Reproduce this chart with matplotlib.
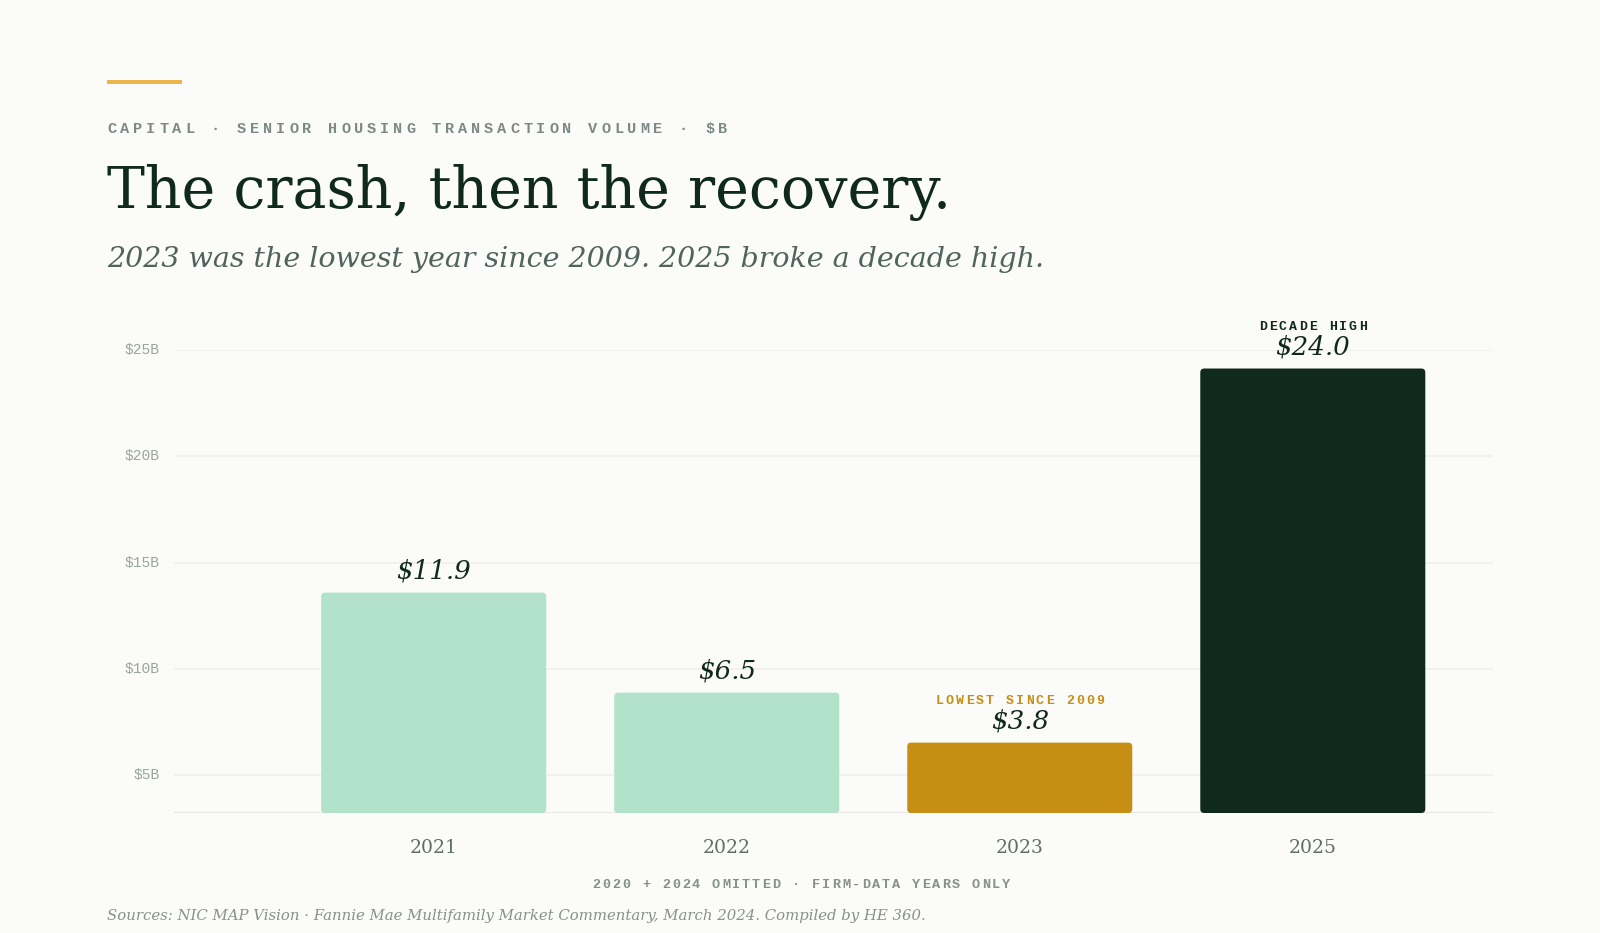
import matplotlib.pyplot as plt
from matplotlib.patches import FancyBboxPatch
from matplotlib.lines import Line2D
from matplotlib.transforms import offset_copy, blended_transform_factory

# data
years = ['2021', '2022', '2023', '2025']
volume = [11.9, 6.5, 3.8, 24.0]
bar_colors = ['#b2e2c9', '#b2e2c9', '#c68e12', '#10291f']
tick_vals = [5, 10, 15, 20, 25]
tick_labels = ['$5B', '$10B', '$15B', '$20B', '$25B']
callouts = {2: ('LOWEST SINCE 2009', '#c68e12'), 3: ('DECADE HIGH', '#10291f')}

W, H = 1600, 933
BG = '#fbfbfa'
DARK = '#10291f'
MONO = 'Liberation Mono'
SERIF = 'DejaVu Serif'

fig = plt.figure(figsize=(16, 9.33), dpi=100, facecolor=BG)
ax = fig.add_axes([173.5 / W, 1 - 813 / H, (1493 - 173.5) / W, 463 / H])
ax.set_facecolor(BG)
ax.set_xlim(-0.888, 3.615)
ax.set_ylim(0, 25)
for s in ax.spines.values():
    s.set_visible(False)
ax.set_xticks([])
ax.set_yticks([])


def spaced(trans, x, y, s, step, ha='left', dy=0, **kw):
    # monospace text with letter spacing, one glyph at a time
    n = len(s)
    start = 0 if ha == 'left' else -(n - 1) * step / 2
    for i, ch in enumerate(s):
        t = offset_copy(trans, fig=fig, x=start + i * step, y=dy, units='dots')
        fig.text(x, y, ch, transform=t, ha=ha, va='baseline', **kw)


# the grid runs on a slightly different scale than the bars
def grid_y(v):
    return 25 - (25 - v) * (881.6 - 350) / (813 - 350)


lab_tr = offset_copy(blended_transform_factory(ax.transAxes, ax.transData),
                     fig=fig, x=-13.5, y=0, units='dots')
for v, lab in zip(tick_vals, tick_labels):
    ax.axhline(grid_y(v), color='#efefed', lw=1.1, zorder=0)
    ax.text(0, grid_y(v), lab, transform=lab_tr, ha='right', va='center',
            family=MONO, fontsize=10.5, color='#9aa59f')
ax.axhline(0, color='#e3e4e2', lw=1.2, zorder=1)

bw = 225 / 293
rr = 4 / 293
asp = (25 / 463) / (1 / 293)
for i, (v, c) in enumerate(zip(volume, bar_colors)):
    ax.add_patch(FancyBboxPatch((i - bw / 2, 0), bw, v,
                                boxstyle=f'round,pad=0,rounding_size={rr}',
                                mutation_aspect=asp, fc=c, ec='none', zorder=2))
    t = offset_copy(ax.transData, fig=fig, x=0, y=14.5, units='dots')
    ax.text(i, v, f'${v:.1f}', transform=t, ha='center', va='baseline',
            family=SERIF, style='italic', fontsize=18.8, color=DARK)
    t = offset_copy(ax.transData, fig=fig, x=0, y=-40, units='dots')
    ax.text(i, 0, years[i], transform=t, ha='center', va='baseline',
            family=SERIF, fontsize=13.5, color='#5f6e68')
    if i in callouts:
        txt, col = callouts[i]
        spaced(ax.transData, i, v, txt, 10.0, ha='center', dy=38.5,
               family=MONO, weight='bold', fontsize=9.5, color=col)

# header
fig.add_artist(Line2D([107 / W, 182 / W], [1 - 82 / H] * 2, lw=4 * 0.72,
                      color='#ecb54a', solid_capstyle='butt'))
spaced(fig.transFigure, 107 / W, 1 - 133 / H,
       'CAPITAL · SENIOR HOUSING TRANSACTION VOLUME · $B', 13.0,
       family=MONO, weight='bold', fontsize=11, color='#7c8984')
fig.text(107 / W, 1 - 208 / H, 'The crash, then the recovery.', family=SERIF,
         fontsize=41, color=DARK, va='baseline')
fig.text(107 / W, 1 - 266.7 / H,
         '2023 was the lowest year since 2009. 2025 broke a decade high.',
         family=SERIF, style='italic', fontsize=20.5, color='#50635c', va='baseline')

# footer
spaced(fig.transFigure, 801 / W, 1 - 887.7 / H,
       '2020 + 2024 OMITTED · FIRM-DATA YEARS ONLY', 10.0, ha='center',
       family=MONO, weight='bold', fontsize=9.7, color='#85918b')
fig.text(107 / W, 1 - 920 / H,
         'Sources: NIC MAP Vision · Fannie Mae Multifamily Market Commentary, '
         'March 2024. Compiled by HE 360.',
         family=SERIF, style='italic', fontsize=10.7, color='#86928c', va='baseline')

fig.savefig('out.png', dpi=100, facecolor=BG)
